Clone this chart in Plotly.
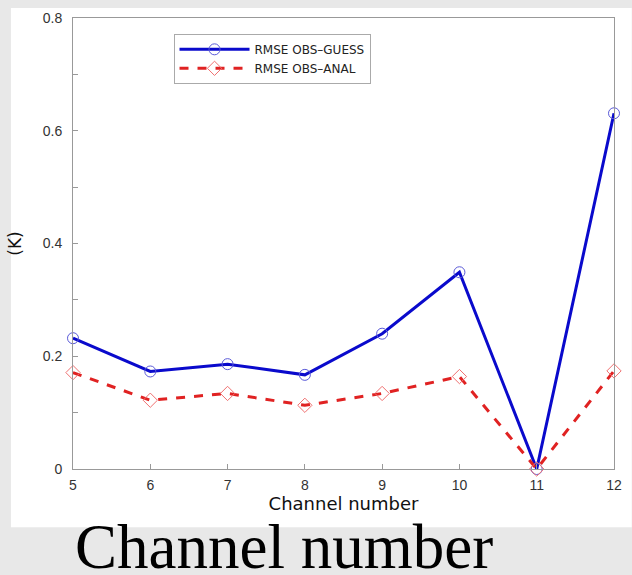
import plotly.graph_objects as go

channels = [5, 6, 7, 8, 9, 10, 11, 12]
rmse_guess = [0.232, 0.173, 0.186, 0.167, 0.240, 0.349, 0.0, 0.631]
rmse_anal = [0.171, 0.122, 0.134, 0.113, 0.134, 0.164, 0.0, 0.174]
y_ticks = [0, 0.2, 0.4, 0.6, 0.8]
y_tick_labels = ["0", "0.2", "0.4", "0.6", "0.8"]

FONT = "Liberation Sans, Arial, Helvetica, sans-serif"
WIDE = "DejaVu Sans, Liberation Sans, sans-serif"

fig = go.Figure()
fig.add_trace(go.Scatter(
    x=channels, y=rmse_guess, name="RMSE OBS\u2013GUESS", mode="lines+markers",
    line=dict(color="#0a0acc", width=3),
    marker=dict(symbol="circle-open", size=11, color="#5a5ad8", line=dict(width=1)),
    cliponaxis=False,
))
fig.add_trace(go.Scatter(
    x=channels, y=rmse_anal, name="RMSE OBS\u2013ANAL", mode="lines+markers",
    line=dict(color="#e02222", width=3, dash="dash"),
    marker=dict(symbol="diamond-open", size=11, color="#f07070", line=dict(width=1)),
    cliponaxis=False,
))

L, R, T, B = 73, 10, 13, 106
W, H = 632, 575
pw = W - L - R
ph = H - T - B

def px(x):
    return (x - L) / pw

def py(y):
    return (H - B - y) / ph

fig.update_layout(
    width=W, height=H,
    margin=dict(l=L, r=R, t=T, b=B),
    paper_bgcolor="#e8e8e8",
    plot_bgcolor="white",
    font=dict(family=FONT, size=14, color="#333"),
    showlegend=True,
    legend=dict(
        x=px(175), y=py(29), xanchor="left", yanchor="top",
        bgcolor="white", bordercolor="#aaaaaa", borderwidth=1,
        font=dict(family=WIDE, size=12, color="#222"),
        itemwidth=70, tracegroupgap=0,
    ),
    shapes=[dict(
        type="rect", xref="paper", yref="paper", layer="below",
        x0=px(10), x1=px(640), y0=py(528), y1=py(3),
        fillcolor="white", line=dict(width=0),
    )],
    annotations=[dict(
        text="Channel number", xref="paper", yref="paper",
        x=px(287.5), y=py(548), xanchor="center", yanchor="middle",
        showarrow=False,
        font=dict(family="Liberation Serif, Times New Roman, serif", size=63, color="black"),
    )],
)

fig.update_xaxes(
    range=[5, 12], tickmode="array", tickvals=channels,
    ticks="inside", ticklen=5, tickcolor="#999", ticklabelstandoff=3,
    showline=True, linecolor="#999", linewidth=1, mirror=True,
    showgrid=False, zeroline=False,
    title=dict(text="Channel number", font=dict(family=WIDE, size=18, color="#111"), standoff=3),
)
fig.update_yaxes(
    range=[0, 0.8], tickmode="array", tickvals=y_ticks, ticktext=y_tick_labels,
    ticks="inside", ticklen=5, tickcolor="#999", ticklabelstandoff=7,
    minor=dict(dtick=0.1, ticks="inside", ticklen=5, tickcolor="#999", showgrid=False),
    showline=True, linecolor="#999", linewidth=1, mirror=True,
    showgrid=False, zeroline=False,
    title=dict(text="(K)", font=dict(family=WIDE, size=17, color="#111"), standoff=16),
)

fig.write_html(
    "out.html",
    config={"displayModeBar": False},
    post_script="document.body.style.margin='0px';document.body.style.overflow='hidden';",
)
